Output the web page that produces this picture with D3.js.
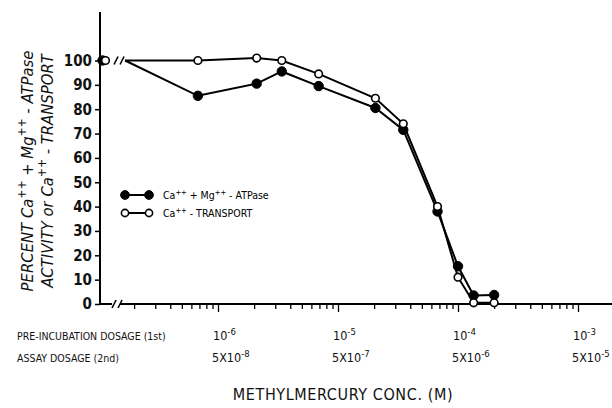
<!DOCTYPE html>
<html>
<head>
<meta charset="utf-8">
<script src="https://cdn.jsdelivr.net/npm/d3@7"></script>
<style>
  body { margin: 0; background: #fff; }
  svg { display: block; }
</style>
</head>
<body>
<svg id="chart" width="612" height="408"></svg>
<script>
// Methylmercury concentration (M, pre-incubation dosage) of each measured point
const concentrations = [6.8e-7, 2.1e-6, 3.4e-6, 6.9e-6, 2.05e-5, 3.5e-5, 6.75e-5, 1.0e-4, 1.35e-4, 2.0e-4];
// Ca++ + Mg++ - ATPase activity, percent of control
const atpaseValues = [85.5, 90.5, 95.5, 89.5, 80.5, 71.5, 38, 15.5, 3.5, 3.7];
// Ca++ - transport, percent of control
const transportValues = [100, 101, 100, 94.5, 84.5, 74, 40, 11, 0.5, 0.5];
// untreated controls, shown left of the axis break
const controlValues = [100, 100];
const controlConc = [1.09e-7, 1.155e-7];
// the curves resume at 100 % just right of the break
const breakConc = 1.68e-7;

const yTicks = [0, 10, 20, 30, 40, 50, 60, 70, 80, 90, 100];
const decades = [1e-6, 1e-5, 1e-4, 1e-3];
const preIncubationExp = ["-6", "-5", "-4", "-3"];
const assayExp = ["-8", "-7", "-6", "-5"];

const FONT = "'Liberation Sans Narrow', 'DejaVu Sans Condensed', sans-serif";
const svg = d3.select("#chart");

const x = d3.scaleLog().domain([1e-7, 1e-3]).range([98, 578]);
const y = d3.scaleLinear().domain([0, 100]).range([304, 60.5]);

// text with superscripts; parts are [string, isSuperscript]
function richText(sel, parts, size, supSize, rise) {
  let raised = false;
  parts.forEach(([txt, sup]) => {
    const sp = sel.append("tspan").text(txt).attr("font-size", sup ? supSize : size);
    if (sup && !raised) { sp.attr("dy", -rise); raised = true; }
    else if (!sup && raised) { sp.attr("dy", rise); raised = false; }
  });
  return sel;
}

// ---- y axis ----
const yAxisX = 100;
svg.append("line")
  .attr("x1", yAxisX).attr("x2", yAxisX)
  .attr("y1", 12).attr("y2", y(0))
  .attr("stroke", "#000").attr("stroke-width", 2);

const yAxis = d3.axisLeft(y).tickValues(yTicks).tickSize(5).tickPadding(3);
const gy = svg.append("g").attr("transform", `translate(${yAxisX},0)`).call(yAxis);
gy.select(".domain").remove();
gy.selectAll(".tick line").attr("stroke", "#000").attr("stroke-width", 1.5);
gy.selectAll(".tick text")
  .attr("font-family", FONT).attr("font-size", 15).attr("font-weight", "bold")
  .attr("fill", "#111");

// ---- x axis (log, with a break next to the origin) ----
const minorTicks = [];
for (let d = 1e-7; d < 2e-3; d *= 10) {
  for (let k = 1; k <= 9; k++) {
    const v = d * k;
    if (v >= 2e-7 && v <= 1.2e-3) minorTicks.push(v);
  }
}
const xAxis = d3.axisBottom(x).tickValues(minorTicks).tickSize(5).tickFormat("");
const gx = svg.append("g").attr("transform", `translate(0,${y(0)})`).call(xAxis);
gx.select(".domain").remove();
gx.selectAll(".tick line")
  .attr("stroke", "#000").attr("stroke-width", 1.3)
  .attr("y2", d => decades.some(m => Math.abs(m - d) / m < 1e-6) ? 8 : 5);

const bx = x(breakConc);
svg.append("path")
  .attr("d", `M${yAxisX},${y(0)}H${bx - 13}M${bx - 5},${y(0)}H612`)
  .attr("stroke", "#000").attr("stroke-width", 2).attr("fill", "none");

// break slashes on the axis and on the 100 % line
function slashes(cx, cy) {
  svg.append("path")
    .attr("d", `M${cx - 11},${cy + 4}L${cx - 7},${cy - 4}M${cx - 5},${cy + 4}L${cx - 1},${cy - 4}`)
    .attr("stroke", "#000").attr("stroke-width", 1.6).attr("fill", "none");
}
slashes(bx - 2, y(0));
slashes(bx, y(100));

// ---- data ----
const lineGen = d3.line().x(d => x(d.c)).y(d => y(d.v));
const series = [
  { key: "atpase", values: atpaseValues, filled: true },
  { key: "transport", values: transportValues, filled: false }
];
series.forEach(s => {
  const pts = [{ c: breakConc, v: 100 }].concat(concentrations.map((c, i) => ({ c, v: s.values[i] })));
  svg.append("path")
    .datum(pts)
    .attr("d", lineGen)
    .attr("fill", "none").attr("stroke", "#000").attr("stroke-width", 2);
});
series.forEach((s, si) => {
  const pts = [{ c: controlConc[si], v: controlValues[si] }]
    .concat(concentrations.map((c, i) => ({ c, v: s.values[i] })));
  svg.append("g").selectAll("circle")
    .data(pts).join("circle")
    .attr("cx", d => x(d.c)).attr("cy", d => y(d.v))
    .attr("r", s.filled ? 4.7 : 3.8)
    .attr("fill", s.filled ? "#000" : "#fff")
    .attr("stroke", "#000").attr("stroke-width", s.filled ? 1 : 1.6);
});

// ---- legend ----
const legend = [
  { filled: true, parts: [["Ca", 0], ["++", 1], [" + Mg", 0], ["++", 1], [" - ATPase", 0]] },
  { filled: false, parts: [["Ca", 0], ["++", 1], [" - TRANSPORT", 0]] }
];
legend.forEach((l, i) => {
  const ly = 195 + i * 18;
  const g = svg.append("g");
  g.append("line").attr("x1", 125).attr("x2", 149).attr("y1", ly).attr("y2", ly)
    .attr("stroke", "#000").attr("stroke-width", 2);
  [125, 149].forEach(cx => g.append("circle")
    .attr("cx", cx).attr("cy", ly).attr("r", l.filled ? 4.4 : 3.6)
    .attr("fill", l.filled ? "#000" : "#fff").attr("stroke", "#000").attr("stroke-width", l.filled ? 1 : 1.6));
  const t = g.append("text").attr("x", 163).attr("y", ly + 4)
    .attr("font-family", FONT).attr("fill", "#000");
  richText(t, l.parts, 10.5, 7.5, 4);
});

// ---- y axis title ----
const yTitle = [
  { x: 33, parts: [["PERCENT  Ca", 0], ["++", 1], [" + Mg", 0], ["++", 1], [" - ATPase", 0]] },
  { x: 53, parts: [["ACTIVITY  or  Ca", 0], ["++", 1], [" - TRANSPORT", 0]] }
];
yTitle.forEach(l => {
  const t = svg.append("text")
    .attr("transform", `translate(${l.x},171) rotate(-90)`)
    .attr("text-anchor", "middle")
    .attr("font-family", FONT).attr("font-style", "italic")
    .attr("fill", "#111");
  richText(t, l.parts, 16.5, 12, 7);
});

// ---- x tick label rows ----
svg.append("text").attr("x", 17).attr("y", 340)
  .attr("font-family", FONT).attr("font-size", 10.5).attr("fill", "#111")
  .text("PRE-INCUBATION DOSAGE (1st)");
svg.append("text").attr("x", 17).attr("y", 362)
  .attr("font-family", FONT).attr("font-size", 10.5).attr("fill", "#111")
  .text("ASSAY DOSAGE (2nd)");

decades.forEach((d, i) => {
  const t1 = svg.append("text").attr("x", x(d) - 5).attr("y", 340)
    .attr("font-family", FONT).attr("fill", "#111");
  richText(t1, [["10", 0], [preIncubationExp[i], 1]], 12.5, 9.5, 5);
  const t2 = svg.append("text").attr("x", x(d) - 6).attr("y", 362)
    .attr("font-family", FONT).attr("fill", "#111");
  richText(t2, [["5X10", 0], [assayExp[i], 1]], 12.5, 9.5, 5);
});

// ---- x axis title ----
svg.append("text").attr("x", 343).attr("y", 400)
  .attr("text-anchor", "middle")
  .attr("font-family", FONT).attr("font-size", 16).attr("fill", "#111")
  .attr("letter-spacing", 0.6)
  .text("METHYLMERCURY  CONC.  (M)");
</script>
</body>
</html>
